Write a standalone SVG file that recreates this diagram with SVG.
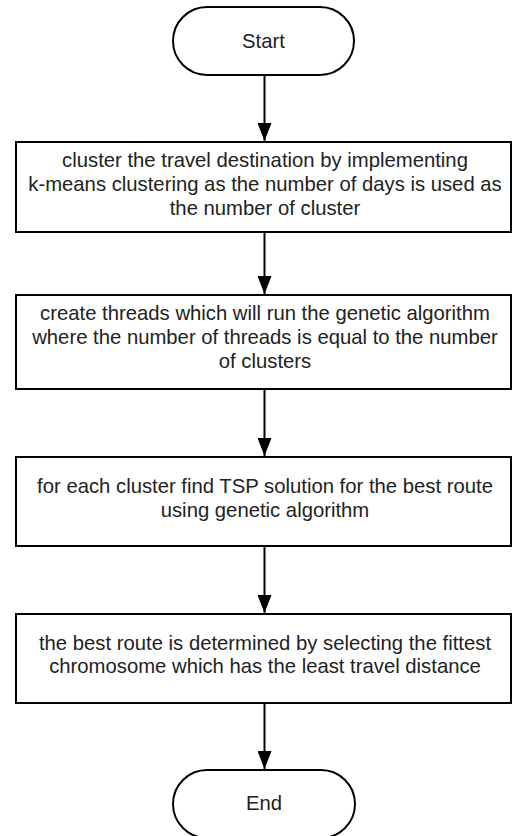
<svg xmlns="http://www.w3.org/2000/svg" width="512" height="836" viewBox="0 0 512 836">
<style>
.shape{fill:#fff;stroke:#000;stroke-width:2}
.t{font-family:"Liberation Sans",Arial,sans-serif;font-size:20.3px;fill:#222;text-anchor:middle}
.conn{stroke:#000;stroke-width:2;fill:none}
</style>
<defs>
<marker id="ah" markerUnits="userSpaceOnUse" markerWidth="18" markerHeight="14" viewBox="0 0 18 14" refX="18" refY="7" orient="auto">
<path d="M0,0 L18,7 L0,14 Z" fill="#000"/>
</marker>
</defs>
<rect width="512" height="836" fill="#fff"/>
<g id="connectors">
<path class="conn" d="M264.5,75 V141" marker-end="url(#ah)"/>
<path class="conn" d="M264.5,232 V294" marker-end="url(#ah)"/>
<path class="conn" d="M264.5,389 V456" marker-end="url(#ah)"/>
<path class="conn" d="M264.5,546 V613" marker-end="url(#ah)"/>
<path class="conn" d="M264.5,703 V769" marker-end="url(#ah)"/>
</g>
<g id="start">
<rect class="shape" x="173" y="7" width="181" height="68" rx="34"/>
<text class="t" x="263.5" y="48">Start</text>
</g>
<g id="step1">
<rect class="shape" x="16" y="142" width="495" height="90"/>
<text class="t" x="265" y="167">cluster the travel destination by implementing</text>
<text class="t" x="265" y="191">k-means clustering as the number of days is used as</text>
<text class="t" x="265" y="215">the number of cluster</text>
</g>
<g id="step2">
<rect class="shape" x="16" y="295" width="495" height="94"/>
<text class="t" x="265" y="320">create threads which will run the genetic algorithm</text>
<text class="t" x="265" y="344">where the number of threads is equal to the number</text>
<text class="t" x="265" y="368">of clusters</text>
</g>
<g id="step3">
<rect class="shape" x="16" y="457" width="495" height="89"/>
<text class="t" x="265" y="493">for each cluster find TSP solution for the best route</text>
<text class="t" x="265" y="517">using genetic algorithm</text>
</g>
<g id="step4">
<rect class="shape" x="16" y="614" width="495" height="89"/>
<text class="t" x="265" y="650">the best route is determined by selecting the fittest</text>
<text class="t" x="265" y="673">chromosome which has the least travel distance</text>
</g>
<g id="end">
<rect class="shape" x="173" y="770" width="182" height="68" rx="34"/>
<text class="t" x="264" y="810">End</text>
</g>
</svg>
